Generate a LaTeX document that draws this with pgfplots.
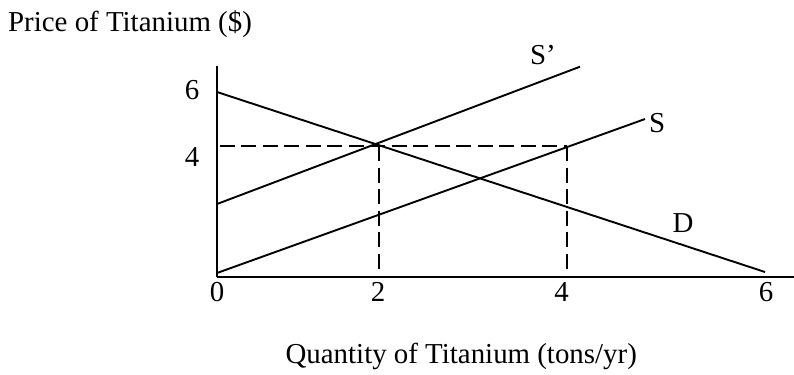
\documentclass[border=0pt]{standalone}
\usepackage{fontspec}
\setmainfont{Liberation Serif}
\usepackage{pgfplots}
\pgfplotsset{compat=1.18}
\begin{document}
\fontsize{29}{34}\selectfont
\begin{tikzpicture}[font=\fontsize{29}{34}\selectfont]
\path[use as bounding box] (0,0) rectangle (794bp,375bp);
\begin{axis}[
  scale only axis, width=577bp, height=211bp,
  at={(217bp,98bp)}, anchor=south west,
  xmin=0, xmax=6.294, ymin=-0.126, ymax=6.520,
  axis lines=left, axis line style={-, line width=2.2bp},
  clip=false,
  xtick={0,1.757,3.76,5.99}, xticklabels={0,2,4,6},
  ytick={3.654,5.764}, yticklabels={4,6},
  major tick length=0pt,
  tick label style={font=\fontsize{29}{34}\selectfont},
  xticklabel style={anchor=center, yshift=-15bp},
  yticklabel style={anchor=center, xshift=-25bp},
]
% Demand D
\addplot[black, line width=1.9bp] coordinates {(0,5.701) (5.978,0.031)};
% Supply S
\addplot[black, line width=1.9bp] coordinates {(0,0) (4.669,4.850)};
% Supply S'
\addplot[black, line width=1.9bp] coordinates {(0,2.173) (3.960,6.498)};
% dashed guides
\addplot[black, line width=2bp, dash pattern=on 15bp off 6.5bp] coordinates {(0.03,4) (3.818,4)};
\addplot[black, line width=2bp, dash pattern=on 15bp off 6.5bp] coordinates {(3.818,4) (3.818,0)};
\addplot[black, line width=2bp, dash pattern=on 15bp off 6.5bp] coordinates {(1.764,4) (1.764,0)};
% labels
\node[anchor=center] at (axis cs:3.556,6.866) {S’};
\node[anchor=center] at (axis cs:4.800,4.724) {S};
\node[anchor=center] at (axis cs:5.083,1.575) {D};
\node[anchor=base west, inner sep=0pt] at (axis cs:-2.280,7.591) {Price of Titanium (\$)};
\node[anchor=base east, inner sep=0pt] at (axis cs:4.582,-2.835) {Quantity of Titanium (tons/yr)};
\end{axis}
\end{tikzpicture}
\end{document}
